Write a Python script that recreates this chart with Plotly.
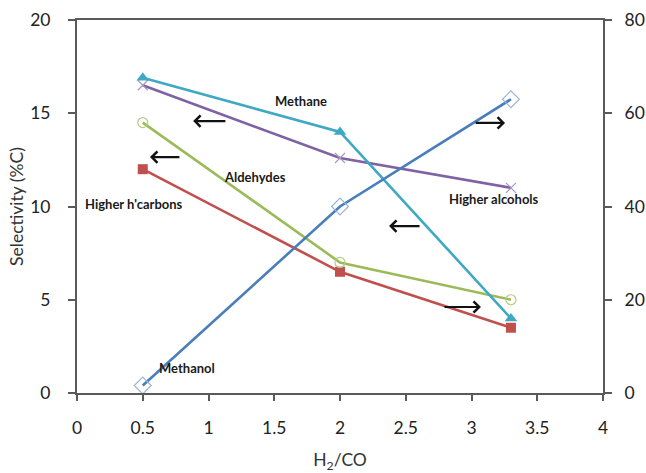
import plotly.graph_objects as go

# H2/CO ratios
h2_co = [0.5, 2.0, 3.3]

# Selectivities (%C), left axis
methane = [16.9, 14.0, 4.0]
higher_alcohols = [16.5, 12.6, 11.0]
aldehydes = [14.5, 7.0, 5.0]
higher_hcarbons = [12.0, 6.5, 3.5]

# Methanol selectivity (%C), right axis
methanol = [1.6, 40.0, 63.0]

x_ticks = [0, 0.5, 1, 1.5, 2, 2.5, 3, 3.5, 4]
x_tick_text = ["0", "0.5", "1", "1.5", "2", "2.5", "3", "3.5", "4"]
y_ticks = [0, 5, 10, 15, 20]
y2_ticks = [0, 20, 40, 60, 80]

FONT = "Lato, Open Sans, sans-serif"
AXIS_COLOR = "#5a5a5a"
LW = 2.6

fig = go.Figure()

fig.add_trace(go.Scatter(
    x=h2_co, y=methanol, yaxis="y2", mode="lines+markers", name="Methanol",
    line=dict(color="#4a7ebb", width=LW),
    marker=dict(symbol="diamond-open", size=13, color="#9fb4d6",
                line=dict(width=1.2, color="#9fb4d6")),
))
fig.add_trace(go.Scatter(
    x=h2_co, y=higher_hcarbons, mode="lines+markers", name="Higher h'carbons",
    line=dict(color="#c0504d", width=LW),
    marker=dict(symbol="square", size=10, color="#c0504d"),
))
fig.add_trace(go.Scatter(
    x=h2_co, y=aldehydes, mode="lines+markers", name="Aldehydes",
    line=dict(color="#9bbb59", width=LW),
    marker=dict(symbol="circle-open", size=10, color="#b6cc80",
                line=dict(width=1.2, color="#b6cc80")),
))
fig.add_trace(go.Scatter(
    x=h2_co, y=higher_alcohols, mode="lines+markers", name="Higher alcohols",
    line=dict(color="#7f62a3", width=LW),
    marker=dict(symbol="x-thin-open", size=10, color="#a898c0",
                line=dict(width=1.2, color="#a898c0")),
))
fig.add_trace(go.Scatter(
    x=h2_co, y=methane, mode="lines+markers", name="Methane",
    line=dict(color="#3fa9c4", width=LW),
    marker=dict(symbol="triangle-up", size=11, color="#3fa9c4"),
))

# Series labels
labels = [
    ("Methane", 1.70, 15.66),
    ("Aldehydes", 1.354, 11.58),
    ("Higher h'carbons", 0.437, 10.13),
    ("Higher alcohols", 3.17, 10.4),
    ("Methanol", 0.837, 1.34),
]
annotations = []
for text, lx, ly in labels:
    annotations.append(dict(
        x=lx, y=ly, xref="x", yref="y", text=text, showarrow=False,
        font=dict(family=FONT, size=13, color="#1a1a1a", weight="bold"),
    ))

# Arrows pointing to the axis each series is read on: (tail_x, head_x, y)
arrows = [
    (1.14, 0.883, 14.58),
    (0.79, 0.555, 12.65),
    (3.02, 3.255, 14.48),
    (2.616, 2.373, 8.95),
    (2.783, 3.072, 4.61),
]
for tx, hx, ay in arrows:
    annotations.append(dict(
        x=hx, y=ay, ax=tx, ay=ay, xref="x", yref="y", axref="x", ayref="y",
        text="", showarrow=True, arrowhead=4, arrowsize=1.0, arrowwidth=2.2,
        arrowcolor="#111111", standoff=0, startstandoff=0,
    ))

TICK_FONT = dict(size=17.5, family=FONT, color="#222222")
TITLE_FONT = dict(size=17.5, family=FONT, color="#333333")

fig.update_layout(
    width=646, height=473,
    margin=dict(l=77, r=43, t=20, b=80),
    paper_bgcolor="white", plot_bgcolor="white",
    showlegend=False,
    font=dict(family=FONT, color="#222222"),
    annotations=annotations,
    xaxis=dict(
        range=[0, 4], tickvals=x_ticks, ticktext=x_tick_text,
        showgrid=False, zeroline=False, automargin=False,
        showline=True, linecolor=AXIS_COLOR, linewidth=2, mirror=True,
        ticks="outside", ticklen=6, tickcolor=AXIS_COLOR, tickwidth=1.5,
        tickfont=TICK_FONT, ticklabelstandoff=12,
        title=dict(text="H<sub>2</sub>/CO", font=TITLE_FONT, standoff=20),
    ),
    yaxis=dict(
        range=[0, 20], tickvals=y_ticks,
        showgrid=False, zeroline=False, automargin=False,
        showline=True, linecolor=AXIS_COLOR, linewidth=2,
        ticks="outside", ticklen=7, tickcolor=AXIS_COLOR, tickwidth=1.5,
        tickfont=TICK_FONT, ticklabelstandoff=14,
        title=dict(text="Selectivity (%C)", font=TITLE_FONT, standoff=2),
    ),
    yaxis2=dict(
        range=[0, 80], tickvals=y2_ticks, overlaying="y", side="right",
        showgrid=False, zeroline=False, automargin=False,
        showline=True, linecolor=AXIS_COLOR, linewidth=2,
        ticks="outside", ticklen=7, tickcolor=AXIS_COLOR, tickwidth=1.5,
        tickfont=TICK_FONT, ticklabelstandoff=9,
    ),
)

fig.write_html("out.html")
